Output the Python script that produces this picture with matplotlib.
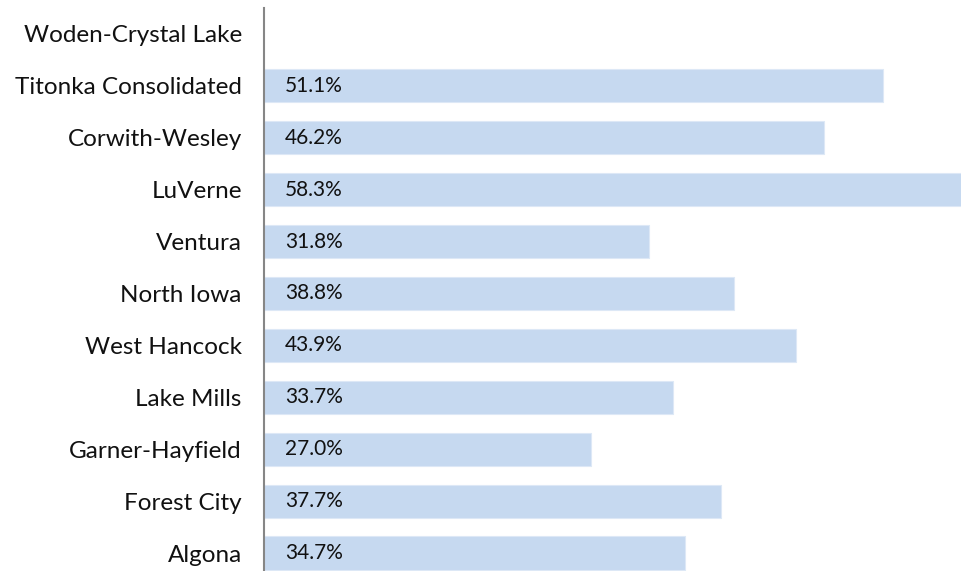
import matplotlib
matplotlib.use("Agg")
import matplotlib.pyplot as plt

categories = ["Woden-Crystal Lake", "Titonka Consolidated", "Corwith-Wesley", "LuVerne",
              "Ventura", "North Iowa", "West Hancock", "Lake Mills", "Garner-Hayfield",
              "Forest City", "Algona"]
values = [None, 51.1, 46.2, 58.3, 31.8, 38.8, 43.9, 33.7, 27.0, 37.7, 34.7]

plt.rcParams['font.family'] = ['Lato', 'DejaVu Sans']

fig = plt.figure(figsize=(9.61, 5.71), dpi=100)
ax = fig.add_axes([264/961, -8/571, 1 - 264/961, 571/571])

n = len(categories)
ypos = list(range(n))
for y, v in zip(ypos, values):
    if v is None:
        continue
    ax.barh(y, v, height=0.64, color='#c6d9f0', edgecolor='#dde8f6', linewidth=0.8)
    ax.text(1.75, y, f"{v:.1f}%", va='center', ha='left', fontsize=15, color='#111111')

ax.set_ylim(n - 0.5, -0.5)
ax.set_xlim(0, 57.5)
ax.set_yticks(ypos)
ax.set_yticklabels(categories, fontsize=17.5, color='#111111')
ax.tick_params(axis='y', length=0, pad=16)
ax.set_xticks([])
for s in ['top', 'right', 'bottom']:
    ax.spines[s].set_visible(False)
ax.spines['left'].set_color('#868686')
ax.spines['left'].set_linewidth(1.5)

fig.savefig("out.png", dpi=100)
